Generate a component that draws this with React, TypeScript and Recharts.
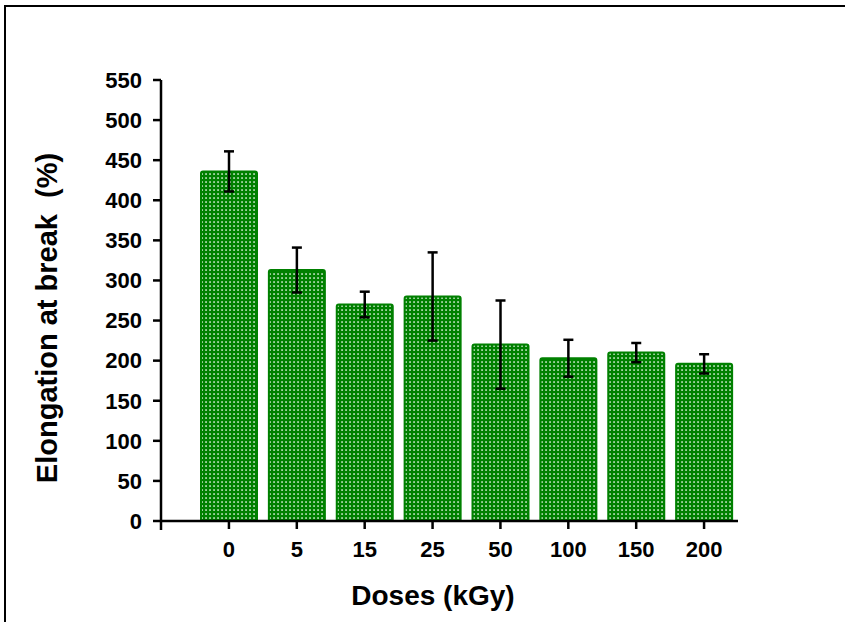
import React from 'react';
import * as Recharts from 'recharts';
import { BarChart, Bar, XAxis, YAxis, ErrorBar, Label } from 'recharts';

const doses = ['0', '5', '15', '25', '50', '100', '150', '200'];
const elongation = [436, 313, 270, 280, 220, 203, 210, 196];
const errors = [25, 28, 16, 55, 55, 23, 12, 12];
const yTicks = [0, 50, 100, 150, 200, 250, 300, 350, 400, 450, 500, 550];

const data = doses.map((d, i) => ({ dose: d, value: elongation[i], err: errors[i] }));

const FONT = 'Arial, "Liberation Sans", Helvetica, sans-serif';

const YExtension = () => {
  const usePlotArea = (Recharts as any).usePlotArea;
  const area = usePlotArea ? usePlotArea() : null;
  if (!area) return null;
  return (
    <line x1={area.x} x2={area.x} y1={area.y + area.height} y2={area.y + area.height + 9} stroke="#000" strokeWidth={2.5} />
  );
};

export default function App() {
  return (
    <div style={{ position: 'absolute', left: 0, top: 0, width: 845, height: 622, background: '#fff' }}>
      <div style={{ position: 'absolute', left: 4, top: 5, width: 841, height: 617, borderTop: '2.5px solid #000', borderLeft: '2.5px solid #000', boxSizing: 'border-box' }} />
      <BarChart
        width={845}
        height={622}
        data={data}
        margin={{ top: 80, right: 107, bottom: 41, left: 0 }}
        barCategoryGap={0}
        style={{ position: 'absolute', left: 0, top: 0 }}
      >
        <defs>
          <pattern id="dots" patternUnits="userSpaceOnUse" width={4} height={4}>
            <rect x={0} y={0} width={4} height={4} fill="#008000" />
            <rect x={1.3} y={1.3} width={1.5} height={1.5} fill="#f2fbf2" />
          </pattern>
        </defs>
        <XAxis
          dataKey="dose"
          height={60}
          padding={{ left: 34, right: 0 }}
          axisLine={{ stroke: '#000', strokeWidth: 2.5 }}
          tickLine={{ stroke: '#000', strokeWidth: 2.5 }}
          tickSize={8}
          tickMargin={12}
          tick={{ fill: '#000', fontSize: 22, fontWeight: 'bold', fontFamily: FONT }}
          interval={0}
        >
          <Label
            content={(props: any) => {
              const vb = props.viewBox;
              return (
                <text x={433} y={vb.y + 84} textAnchor="middle" fill="#000" fontSize={28} fontWeight="bold" fontFamily={FONT}>
                  Doses (kGy)
                </text>
              );
            }}
          />
        </XAxis>
        <YAxis
          width={161}
          domain={[0, 550]}
          ticks={yTicks}
          interval={0}
          allowDataOverflow
          axisLine={{ stroke: '#000', strokeWidth: 2.5 }}
          tickLine={{ stroke: '#000', strokeWidth: 2.5 }}
          tickSize={8}
          tickMargin={11}
          tick={{ fill: '#000', fontSize: 22, fontWeight: 'bold', fontFamily: FONT }}
        >
          <Label
            content={(props: any) => {
              const vb = props.viewBox;
              const cx = vb.x + 57;
              const cy = 318;
              return (
                <text x={cx} y={cy} transform={`rotate(-90, ${cx}, ${cy})`} textAnchor="middle" fill="#000" fontSize={29} fontWeight="bold" fontFamily={FONT} style={{ whiteSpace: 'pre' }}>
                  {'Elongation at break  (%)'}
                </text>
              );
            }}
          />
        </YAxis>
        <Bar dataKey="value" fill="url(#dots)" stroke="#008000" strokeWidth={2} barSize={56} radius={[2, 2, 0, 0]} isAnimationActive={false}>
          <ErrorBar dataKey="err" width={5} stroke="#000" strokeWidth={2.5} isAnimationActive={false} />
        </Bar>
        <YExtension />
      </BarChart>
    </div>
  );
}
